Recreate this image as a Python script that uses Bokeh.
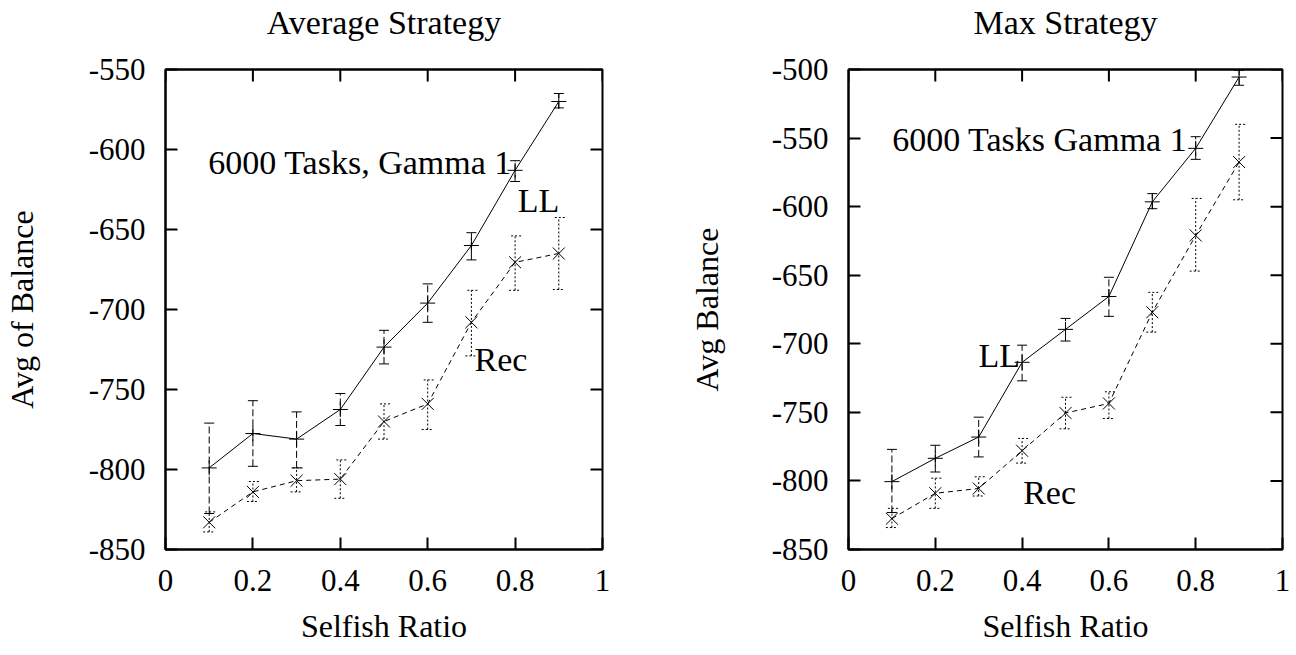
from bokeh.plotting import figure
from bokeh.models import (FixedTicker, Range1d, Whisker, TeeHead,
                          ColumnDataSource, Label, LinearAxis)
from bokeh.layouts import row
from bokeh.embed import file_html
from bokeh.resources import INLINE

# ---------------- data ----------------
selfish_ratio = [0.1, 0.2, 0.3, 0.4, 0.5, 0.6, 0.7, 0.8, 0.9]
x_ticks = [0, 0.2, 0.4, 0.6, 0.8, 1]
x_tick_labels = ["0", "0.2", "0.4", "0.6", "0.8", "1"]

avg_y_ticks = [-850, -800, -750, -700, -650, -600, -550]
avg_y_tick_labels = ["-850", "-800", "-750", "-700", "-650", "-600", "-550"]
avg_ll = [-799, -777.5, -781, -762.5, -723.5, -696, -660, -613, -570]
avg_ll_lo = [-827.5, -798, -799, -772.5, -734, -708, -669, -620, -574]
avg_ll_hi = [-771, -757, -764, -752.5, -713, -684, -652, -607, -565]
avg_rec = [-833, -814, -807, -806, -770, -759, -708, -670.5, -665]
avg_rec_lo = [-839, -820, -814, -818, -781, -775, -729, -688, -687.5]
avg_rec_hi = [-826.5, -807.5, -799, -794, -759, -744, -688, -654, -642.5]

max_y_ticks = [-850, -800, -750, -700, -650, -600, -550, -500]
max_y_tick_labels = ["-850", "-800", "-750", "-700", "-650", "-600", "-550", "-500"]
max_ll = [-800.5, -783.5, -768, -713.5, -689.5, -665.5, -596.5, -557.5, -505.5]
max_ll_lo = [-823, -793.5, -782.5, -727, -698, -680, -601.5, -565.5, -511.5]
max_ll_hi = [-777, -774, -753.5, -701, -681.5, -651.5, -590.5, -549, -500.5]
max_rec = [-827.5, -809, -805.5, -778, -750.5, -743.5, -677, -621, -567.5]
max_rec_lo = [-834, -820, -811, -787, -762, -754.5, -691.5, -647, -595]
max_rec_hi = [-820, -798, -797, -769, -739, -735, -662.5, -594, -540]

FONT = "Liberation Serif"
TICK_FS = "31px"
LABEL_FS = "32px"
TITLE_FS = "34px"
TEXT_FS = "34px"


def style_axis(ax, ticks, labels):
    ax.ticker = FixedTicker(ticks=ticks)
    ax.major_label_overrides = {t: l for t, l in zip(ticks, labels)}
    ax.major_tick_in = 12
    ax.major_tick_out = 0
    ax.minor_tick_in = 0
    ax.minor_tick_out = 0
    ax.major_tick_line_width = 2
    ax.axis_line_width = 2
    ax.axis_line_color = "black"
    ax.major_tick_line_color = "black"
    ax.major_label_text_font = FONT
    ax.major_label_text_font_size = TICK_FS
    ax.major_label_text_color = "black"
    ax.axis_label_text_font = FONT
    ax.axis_label_text_font_style = "normal"
    ax.axis_label_text_font_size = LABEL_FS
    ax.axis_label_text_color = "black"


def make(title, ylabel, y_lo, y_hi, yticks, ylabels, ll, ll_lo, ll_hi,
         rec, rec_lo, rec_hi, width, bl, br, texts, ylab_standoff):
    p = figure(width=width, height=655, x_range=Range1d(0, 1),
               y_range=Range1d(y_lo, y_hi), output_backend="svg",
               toolbar_location=None, min_border_left=bl, min_border_right=br,
               min_border_top=69, min_border_bottom=106, title=None)
    p.xgrid.visible = False
    p.ygrid.visible = False
    p.outline_line_color = "black"
    p.outline_line_width = 2
    p.background_fill_color = "white"
    p.border_fill_color = "white"

    xa = p.xaxis[0]
    style_axis(xa, x_ticks, x_tick_labels)
    xa.axis_label = "Selfish Ratio"
    xa.major_label_standoff = 20
    xa.axis_label_standoff = 14

    ya = p.yaxis[0]
    style_axis(ya, yticks, ylabels)
    ya.axis_label = ylabel
    ya.major_label_standoff = 20
    ya.axis_label_standoff = ylab_standoff

    # panel title: label of a tick-less axis above the frame
    top = LinearAxis(ticker=FixedTicker(ticks=[]), axis_label=title)
    top.axis_line_width = 2
    top.axis_line_color = "black"
    top.major_tick_in = 0
    top.major_tick_out = 0
    top.minor_tick_in = 0
    top.minor_tick_out = 0
    top.major_label_standoff = 0
    top.axis_label_standoff = 29
    top.axis_label_text_font = FONT
    top.axis_label_text_font_style = "normal"
    top.axis_label_text_font_size = TITLE_FS
    top.axis_label_text_color = "black"
    p.add_layout(top, "above")

    # mirrored inward ticks on top and right edges
    p.ray(x=x_ticks, y=[y_hi] * len(x_ticks), length=12, length_units="screen",
          angle=-90, angle_units="deg", line_color="black", line_width=2)
    p.ray(x=[1] * len(yticks), y=yticks, length=12, length_units="screen",
          angle=180, angle_units="deg", line_color="black", line_width=2)

    src_ll = ColumnDataSource(dict(x=selfish_ratio, y=ll, lo=ll_lo, hi=ll_hi))
    src_rec = ColumnDataSource(dict(x=selfish_ratio, y=rec, lo=rec_lo, hi=rec_hi))

    p.add_layout(Whisker(source=src_ll, base="x", lower="lo", upper="hi",
                         line_color="black", line_width=1, line_dash="7 3",
                         upper_head=TeeHead(size=10, line_color="black", line_width=1),
                         lower_head=TeeHead(size=10, line_color="black", line_width=1),
                         level="glyph"))
    p.add_layout(Whisker(source=src_rec, base="x", lower="lo", upper="hi",
                         line_color="black", line_width=1, line_dash="2 2",
                         upper_head=TeeHead(size=12, line_color="black", line_width=1, line_dash="2 2"),
                         lower_head=TeeHead(size=12, line_color="black", line_width=1, line_dash="2 2"),
                         level="glyph"))

    p.line("x", "y", source=src_ll, line_color="black", line_width=1)
    p.scatter("x", "y", source=src_ll, marker="cross", size=15, line_color="black", line_width=1)
    p.line("x", "y", source=src_rec, line_color="black", line_width=1, line_dash="5 4")
    p.scatter("x", "y", source=src_rec, marker="x", size=17, line_color="black", line_width=1)

    for (tx, ty, txt) in texts:
        p.add_layout(Label(x=tx, y=ty, text=txt, text_font=FONT, text_font_size=TEXT_FS,
                           text_color="black", text_baseline="alphabetic", text_align="left"))
    return p


p1 = make("Average Strategy", "Avg of Balance", -850, -550, avg_y_ticks, avg_y_tick_labels,
          avg_ll, avg_ll_lo, avg_ll_hi, avg_rec, avg_rec_lo, avg_rec_hi,
          648, 165, 46,
          [(0.098, -607.9, "6000 Tasks, Gamma 1"), (0.806, -631.9, "LL"), (0.707, -731.4, "Rec")],
          46)
p2 = make("Max Strategy", "Avg Balance", -850, -500, max_y_ticks, max_y_tick_labels,
          max_ll, max_ll_lo, max_ll_hi, max_rec, max_rec_lo, max_rec_hi,
          648, 200, 14,
          [(0.1007, -551.3, "6000 Tasks Gamma 1"), (0.2995, -708.5, "LL"), (0.4025, -808.2, "Rec")],
          44)

layout = row(p1, p2)
open("out.html", "w").write(file_html(layout, INLINE))
